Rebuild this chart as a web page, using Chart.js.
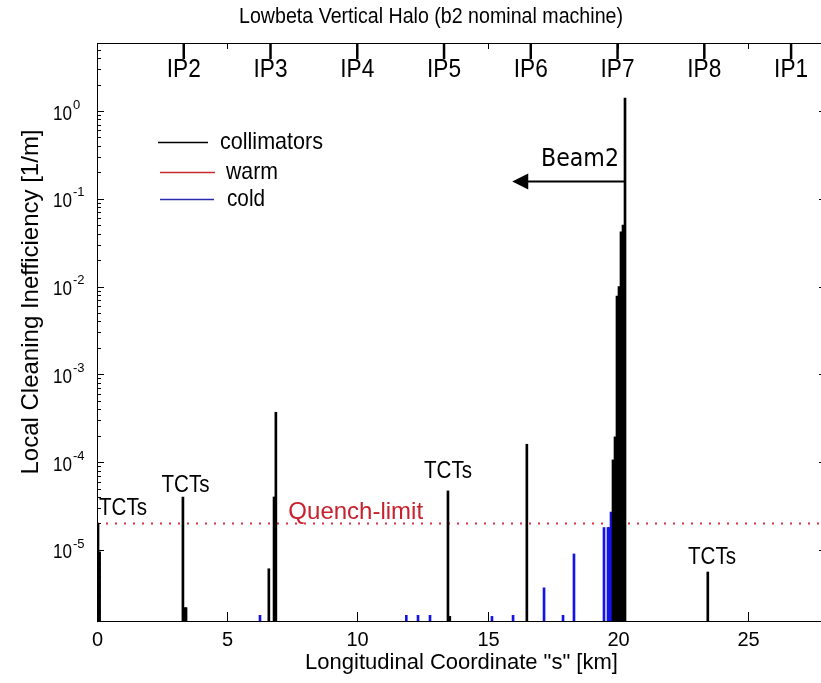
<!DOCTYPE html>
<html>
<head>
<meta charset="utf-8">
<script src="https://cdn.jsdelivr.net/npm/chart.js@4/dist/chart.umd.min.js"></script>
<style>
html, body { margin: 0; padding: 0; background: #fff; overflow: hidden; }
</style>
</head>
<body>
<canvas id="chart" width="830" height="683"></canvas>
<script>
// positions along the ring [km] and local cleaning inefficiency [1/m]
const collimatorPos = [0.04, 0.10, 3.30, 3.38, 3.42, 6.60, 6.80, 6.84, 6.87, 13.48, 13.55, 16.51, 23.46,
                       19.819, 19.896, 19.972, 20.049, 20.126, 20.203, 20.280];
const collimatorVal = [2.0e-5, 9.5e-6, 4.0e-5, 2.2e-6, 2.2e-6, 6.1e-6, 4.0e-5, 4.0e-5, 3.7e-4, 4.7e-5, 1.75e-6, 1.6e-4, 5.6e-6,
                       1.06e-4, 1.94e-4, 7.8e-3, 1.0e-2, 4.2e-2, 5.0e-2, 1.4];
const warmPos = [];
const warmVal = [];
const coldPos = [6.26, 11.88, 12.33, 12.79, 15.17, 15.98, 17.17, 17.90, 18.32, 19.473, 19.627, 19.665, 19.742];
const coldVal = [1.8e-6, 1.8e-6, 1.8e-6, 1.8e-6, 1.75e-6, 1.8e-6, 3.7e-6, 1.8e-6, 9.0e-6, 1.8e-5, 1.8e-5, 1.8e-5, 2.7e-5];

const quenchLimit = 2e-5;
const ipNames = ['IP2', 'IP3', 'IP4', 'IP5', 'IP6', 'IP7', 'IP8', 'IP1'];
const ipPos = [3.332, 6.664, 9.997, 13.329, 16.661, 19.994, 23.326, 26.659];
const xTicks = [0, 5, 10, 15, 20, 25];
const yExponents = [-5, -4, -3, -2, -1, 0];
const xMin = 0, xMax = 28;
const yMin = 1.55e-6, yMax = 5.95;

const SANS = '"Liberation Sans", Arial, sans-serif';

function pairs(xs, ys) {
    return xs.map((x, i) => ({ x: x, y: ys[i] }));
}

// MATLAB-style box, inward ticks, IP markers and annotations
const axesDecor = {
    id: 'axesDecor',
    afterDraw(chart) {
        const ctx = chart.ctx;
        const a = chart.chartArea;
        const xs = chart.scales.x, ys = chart.scales.y;
        const seg = (x1, y1, x2, y2) => { ctx.beginPath(); ctx.moveTo(x1, y1); ctx.lineTo(x2, y2); ctx.stroke(); };

        ctx.save();
        ctx.strokeStyle = '#000';
        ctx.fillStyle = '#000';
        ctx.lineWidth = 1;
        ctx.strokeRect(Math.round(a.left) + 0.5, Math.round(a.top) + 0.5,
                       Math.round(a.right - a.left), Math.round(a.bottom - a.top));

        // log ticks on both sides
        for (let e = -6; e <= 0; e++) {
            for (let m = 1; m <= 9; m++) {
                const v = m * Math.pow(10, e);
                if (v < ys.min || v > ys.max) continue;
                const py = Math.round(ys.getPixelForValue(v)) + 0.5;
                const len = m === 1 ? 7 : 4;
                seg(a.left, py, a.left + len, py);
                seg(a.right, py, a.right - len, py);
            }
        }

        // y labels 10^n
        ctx.textBaseline = 'middle';
        yExponents.forEach(e => {
            const py = ys.getPixelForValue(Math.pow(10, e));
            ctx.font = '20px ' + SANS;
            ctx.textAlign = 'right';
            ctx.fillText('10', 72, py + 3, 19);
            ctx.font = '13px ' + SANS;
            ctx.textAlign = 'left';
            ctx.fillText(String(e), 73, py - 6);
        });

        // x ticks bottom and top, labels
        ctx.font = '20px ' + SANS;
        ctx.textAlign = 'center';
        xTicks.forEach(t => {
            const px = Math.round(xs.getPixelForValue(t)) + 0.5;
            seg(px, a.bottom, px, a.bottom - 9);
            seg(px, a.top, px, a.top + 6);
            ctx.fillText(String(t), px, 640);
        });

        // interaction points on the top axis
        ctx.lineWidth = 2.5;
        ctx.font = '25px ' + SANS;
        ipPos.forEach((p, i) => {
            const px = xs.getPixelForValue(p);
            seg(px, a.top, px, a.top + 16);
            ctx.fillText(ipNames[i], px, 70, 34);
        });
        ctx.lineWidth = 1;

        // titles
        ctx.font = '22px ' + SANS;
        ctx.fillText('Lowbeta Vertical Halo (b2 nominal machine)', 431, 17, 384);
        ctx.font = '22px ' + SANS;
        ctx.fillText('Longitudinal Coordinate "s" [km]', (a.left + a.right) / 2, 663);
        ctx.save();
        ctx.translate(31, 302);
        ctx.rotate(-Math.PI / 2);
        ctx.font = '24px ' + SANS;
        ctx.fillText('Local Cleaning Inefficiency [1/m]', 0, 0, 375);
        ctx.restore();

        // legend
        const legend = [['collimators', '#000', 142, 158, 208, 220, 103],
                        ['warm', '#cc2a2a', 172, 160, 215, 226, 52],
                        ['cold', '#2a2ab0', 199, 160, 214, 227, 38]];
        ctx.font = '24px ' + SANS;
        ctx.textAlign = 'left';
        legend.forEach(([name, col, ly, x1, x2, tx, w]) => {
            ctx.strokeStyle = col;
            ctx.lineWidth = 1.5;
            seg(x1, ly + 0.5, x2, ly + 0.5);
            ctx.fillStyle = '#000';
            ctx.fillText(name, tx, ly, w);
        });

        // TCT labels above their collimators
        ctx.font = '24px ' + SANS;
        ctx.textAlign = 'center';
        [[1.0, 3.0e-5], [3.40, 5.5e-5], [13.48, 7.9e-5], [23.62, 8.3e-6]].forEach(([sx, v]) => {
            ctx.fillText('TCTs', xs.getPixelForValue(sx), ys.getPixelForValue(v), 48);
        });

        // quench limit label
        ctx.fillStyle = '#c8202c';
        ctx.font = '24px ' + SANS;
        ctx.textAlign = 'left';
        ctx.fillText('Quench-limit', xs.getPixelForValue(7.35), ys.getPixelForValue(2.65e-5), 140);

        // beam direction arrow
        const ay = Math.round(ys.getPixelForValue(0.16)) + 0.5;
        const ax1 = xs.getPixelForValue(20.28), ax2 = xs.getPixelForValue(15.95);
        ctx.strokeStyle = '#000';
        ctx.fillStyle = '#000';
        ctx.lineWidth = 2;
        seg(ax1, ay, ax2 + 12, ay);
        ctx.beginPath();
        ctx.moveTo(ax2, ay);
        ctx.lineTo(ax2 + 16, ay - 8);
        ctx.lineTo(ax2 + 16, ay + 8);
        ctx.closePath();
        ctx.fill();
        ctx.font = '25px "DejaVu Sans", sans-serif';
        ctx.textAlign = 'right';
        ctx.fillText('Beam2', ax1 - 6, ys.getPixelForValue(0.28), 78);

        ctx.restore();
    }
};

new Chart(document.getElementById('chart'), {
    type: 'bar',
    data: {
        datasets: [
            { label: 'collimators', data: pairs(collimatorPos, collimatorVal), backgroundColor: '#000',
              barThickness: 2, grouped: false },
            { label: 'warm', data: pairs(warmPos, warmVal), backgroundColor: '#cc2a2a',
              barThickness: 2, grouped: false },
            { label: 'cold', data: pairs(coldPos, coldVal), backgroundColor: '#1414e6',
              barThickness: 2, grouped: false },
            { type: 'line', label: 'Quench-limit', data: [{ x: xMin, y: quenchLimit }, { x: xMax, y: quenchLimit }],
              borderColor: '#e03040', borderWidth: 2, borderDash: [2, 7], pointRadius: 0 }
        ]
    },
    options: {
        responsive: false,
        animation: false,
        layout: { padding: { left: 97, top: 43, right: 4, bottom: 62 } },
        scales: {
            x: { type: 'linear', min: xMin, max: xMax, display: false, offset: false },
            y: { type: 'logarithmic', min: yMin, max: yMax, display: false }
        },
        plugins: {
            legend: { display: false },
            tooltip: { enabled: false }
        }
    },
    plugins: [axesDecor]
});
</script>
</body>
</html>
